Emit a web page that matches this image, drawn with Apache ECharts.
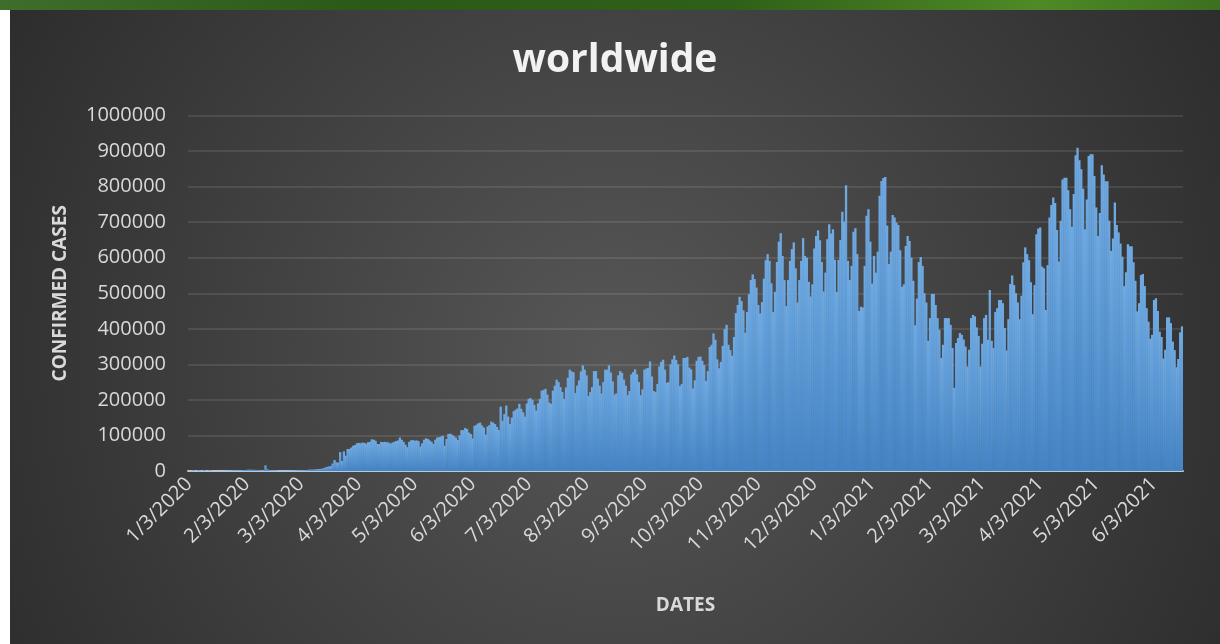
<!DOCTYPE html>
<html>
<head>
<meta charset="utf-8">
<title>worldwide</title>
<script src="https://cdn.jsdelivr.net/npm/echarts@6/dist/echarts.min.js"></script>
<style>
  body { margin: 0; background: #fff; width: 1220px; height: 644px; overflow: hidden; position: relative; }
  #band { position: absolute; left: 0; top: 0; width: 1220px; height: 10px;
          background: linear-gradient(90deg, #3f6e2c 0%, #2b5a18 30%, #2f6019 60%, #4f8a26 85%, #3b7020 100%); }
  #chart { position: absolute; left: 10px; top: 10px; width: 1210px; height: 634px; }
</style>
</head>
<body>
<div id="band"></div>
<div id="chart"></div>
<script>
// daily confirmed cases, one value per day from 1/3/2020 (7 per row)
const dailyCases = [
  0, 0, 1800, 1200, 0, 2200, 1600,
  0, 2400, 1300, 0, 2000, 1500, 0,
  0, 200, 100, 150, 400, 450, 600,
  800, 1000, 1400, 1800, 2000, 1700, 2000,
  2100, 2600, 2800, 3200, 3900, 3700, 3200,
  3400, 2700, 3100, 2500, 2100, 2000, 15500,
  5100, 2700, 2100, 2000, 1900, 1800, 500,
  900, 700, 600, 700, 900, 1100, 1300,
  1400, 1800, 1900, 1800, 2000, 2300, 2200,
  2900, 3800, 3800, 3700, 4100, 4600, 5600,
  5600, 6200, 7500, 9500, 11500, 12500, 14000,
  21000, 31000, 24000, 24000, 53000, 28000, 55000,
  43000, 62000, 62000, 66000, 71000, 73000, 78000,
  79000, 78000, 80000, 79000, 77000, 81000, 82000,
  89000, 88000, 85000, 76000, 76000, 82000, 81000,
  82000, 81000, 80000, 77000, 80000, 82000, 84000,
  86000, 94000, 88000, 82000, 74000, 67000, 82000,
  86000, 87000, 85000, 86000, 84000, 69000, 78000,
  88000, 92000, 90000, 86000, 82000, 76000, 88000,
  94000, 95000, 97000, 99000, 71000, 90000, 104000,
  105000, 102000, 98000, 94000, 87000, 100000, 115000,
  115000, 121000, 118000, 108000, 104000, 92000, 127000,
  130000, 134000, 136000, 128000, 122000, 102000, 125000,
  129000, 139000, 136000, 132000, 124000, 115000, 181000,
  141000, 160000, 184000, 153000, 132000, 150000, 168000,
  172000, 176000, 189000, 175000, 165000, 153000, 190000,
  203000, 205000, 200000, 186000, 170000, 190000, 203000,
  226000, 228000, 231000, 215000, 193000, 189000, 226000,
  240000, 257000, 250000, 236000, 222000, 203000, 235000,
  262000, 285000, 280000, 278000, 219000, 240000, 255000,
  280000, 297000, 285000, 269000, 211000, 222000, 236000,
  281000, 281000, 260000, 240000, 218000, 250000, 285000,
  285000, 297000, 277000, 252000, 215000, 218000, 269000,
  281000, 276000, 257000, 240000, 213000, 225000, 272000,
  278000, 286000, 272000, 250000, 213000, 230000, 285000,
  288000, 290000, 308000, 266000, 225000, 222000, 245000,
  294000, 307000, 313000, 285000, 248000, 250000, 300000,
  314000, 325000, 312000, 300000, 239000, 245000, 318000,
  318000, 321000, 291000, 286000, 232000, 255000, 310000,
  321000, 322000, 310000, 298000, 253000, 281000, 349000,
  355000, 387000, 369000, 314000, 289000, 307000, 352000,
  399000, 411000, 355000, 340000, 324000, 377000, 444000,
  467000, 490000, 478000, 452000, 389000, 447000, 497000,
  537000, 553000, 540000, 516000, 467000, 443000, 475000,
  541000, 593000, 610000, 591000, 528000, 447000, 504000,
  588000, 645000, 669000, 605000, 537000, 464000, 537000,
  591000, 624000, 643000, 570000, 474000, 537000, 591000,
  655000, 605000, 600000, 532000, 491000, 525000, 626000,
  661000, 677000, 649000, 588000, 505000, 558000, 652000,
  694000, 668000, 680000, 594000, 504000, 594000, 650000,
  729000, 702000, 804000, 591000, 537000, 577000, 673000,
  683000, 610000, 450000, 462000, 460000, 577000, 718000,
  736000, 645000, 527000, 605000, 558000, 617000, 774000,
  816000, 824000, 827000, 690000, 582000, 617000, 720000,
  713000, 699000, 692000, 621000, 518000, 525000, 633000,
  661000, 647000, 600000, 535000, 410000, 485000, 588000,
  602000, 577000, 500000, 474000, 366000, 430000, 498000,
  498000, 467000, 430000, 397000, 318000, 355000, 430000,
  430000, 430000, 411000, 346000, 234000, 360000, 374000,
  388000, 383000, 370000, 350000, 294000, 341000, 430000,
  439000, 435000, 404000, 380000, 294000, 358000, 430000,
  439000, 369000, 509000, 366000, 346000, 447000, 458000,
  481000, 481000, 472000, 402000, 339000, 427000, 526000,
  550000, 523000, 500000, 474000, 427000, 493000, 587000,
  629000, 610000, 593000, 531000, 441000, 523000, 666000,
  682000, 685000, 575000, 570000, 453000, 579000, 713000,
  748000, 769000, 754000, 678000, 589000, 704000, 820000,
  825000, 825000, 790000, 736000, 687000, 779000, 888000,
  909000, 874000, 849000, 794000, 680000, 764000, 886000,
  891000, 891000, 830000, 741000, 661000, 726000, 860000,
  834000, 815000, 815000, 704000, 619000, 654000, 755000,
  692000, 671000, 640000, 603000, 520000, 559000, 638000,
  632000, 632000, 587000, 535000, 449000, 472000, 551000,
  554000, 520000, 458000, 420000, 372000, 383000, 481000,
  486000, 450000, 392000, 377000, 316000, 341000, 432000,
  432000, 416000, 364000, 340000, 292000, 315000, 390000,
  407000
];

// axis settings
const yMin = 0;
const yMax = 1000000;
const yStep = 100000;
const firstDay = Date.UTC(2020, 0, 3);

// one m/d/yyyy label per day
const dates = dailyCases.map(function (v, i) {
  const d = new Date(firstDay + i * 86400000);
  return (d.getUTCMonth() + 1) + "/" + d.getUTCDate() + "/" + d.getUTCFullYear();
});

// label and tick only on the 3rd of each month
function isMonthMark(index, value) {
  return value.split("/")[1] === "3";
}

const font = "'Open Sans', sans-serif";
const labelColor = "#d9d9d9";

const chart = echarts.init(document.getElementById("chart"));
const option = {
  animation: false,
  backgroundColor: new echarts.graphic.RadialGradient(0.5, 0.55, 1.36, [
    { offset: 0, color: "#575757" },
    { offset: 1, color: "#232323" },
  ]),
  title: {
    text: "worldwide",
    left: "center",
    top: 26,
    padding: [5, 0, 5, 20],
    textStyle: {
      color: "#f2f2f2",
      fontFamily: font,
      fontSize: 39,
      fontWeight: "bold",
    },
  },
  grid: {
    left: 178,
    right: 37,
    top: 105.5,
    bottom: 173,
  },
  xAxis: {
    type: "category",
    data: dates,
    boundaryGap: true,
    name: "DATES",
    nameLocation: "middle",
    nameGap: 125,
    nameTextStyle: {
      color: labelColor,
      fontFamily: font,
      fontSize: 19,
      fontWeight: "bold",
    },
    axisLine: {
      lineStyle: { color: "#b9c8d8", width: 2 },
    },
    axisTick: {
      interval: isMonthMark,
      alignWithLabel: false,
      length: 7,
      lineStyle: { color: "#a6a6a6", width: 2 },
    },
    axisLabel: {
      interval: isMonthMark,
      rotate: 45,
      margin: 10,
      color: labelColor,
      fontFamily: font,
      fontSize: 20,
    },
  },
  yAxis: {
    type: "value",
    min: yMin,
    max: yMax,
    interval: yStep,
    name: "CONFIRMED CASES",
    nameLocation: "middle",
    nameRotate: 90,
    nameGap: 118,
    nameTextStyle: {
      color: labelColor,
      fontFamily: font,
      fontSize: 19,
      fontWeight: "bold",
    },
    axisLine: { show: false },
    axisTick: { show: false },
    axisLabel: {
      margin: 22,
      color: labelColor,
      fontFamily: font,
      fontSize: 20,
      formatter: function (v) {
        return String(v);
      },
    },
    splitLine: {
      lineStyle: { color: "rgba(255,255,255,0.13)", width: 1.5 },
    },
  },
  series: [
    {
      name: "worldwide",
      type: "bar",
      data: dailyCases,
      barWidth: 2.3,
      itemStyle: {
        color: new echarts.graphic.LinearGradient(0, 0, 0, 1, [
          { offset: 0, color: "#70aae2" },
          { offset: 1, color: "#4484c4" },
        ]),
      },
    },
  ],
};
chart.setOption(option);
</script>
</body>
</html>
